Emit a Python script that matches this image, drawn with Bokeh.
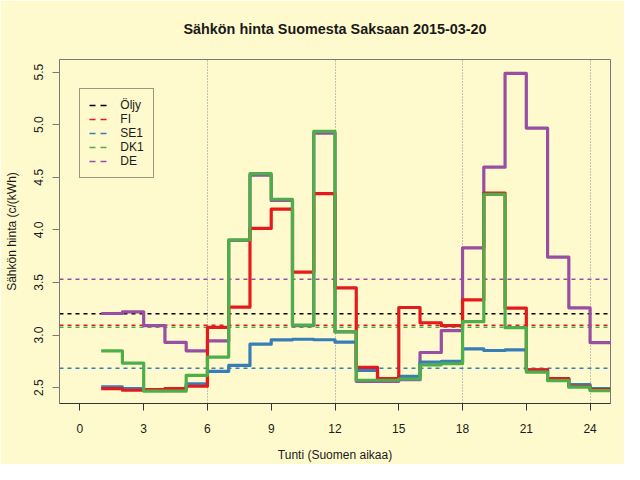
from bokeh.plotting import figure
from bokeh.models import Range1d, FixedTicker, PrintfTickFormatter, Legend, LegendItem, Title, Span
from bokeh.embed import file_html
from bokeh.resources import INLINE

# ---- data ----
hours = list(range(1, 25))
fi = [2.490, 2.475, 2.480, 2.490, 2.513, 3.073, 3.265, 4.014, 4.197, 3.599, 4.345, 3.448,
      2.693, 2.585, 3.262, 3.117, 3.089, 3.335, 4.350, 3.256, 2.670, 2.585, 2.513, 2.480]
se1 = [2.507, 2.490, 2.480, 2.490, 2.535, 2.655, 2.711, 2.913, 2.954, 2.960, 2.955, 2.932,
       2.664, 2.585, 2.607, 2.743, 2.749, 2.868, 2.853, 2.859, 2.670, 2.585, 2.528, 2.490]
dk1 = [2.850, 2.733, 2.466, 2.466, 2.617, 2.790, 3.904, 4.534, 4.291, 3.095, 4.936, 3.032,
       2.570, 2.570, 2.582, 2.717, 2.727, 3.127, 4.338, 3.070, 2.648, 2.566, 2.504, 2.472]
de = [3.205, 3.221, 3.089, 2.931, 2.850, 2.944, 3.900, 4.520, 4.280, 3.090, 4.920, 3.030,
      2.560, 2.560, 2.575, 2.834, 3.042, 3.829, 4.596, 5.488, 4.968, 3.741, 3.259, 2.928]

mean_names = ["Öljy", "FI", "SE1", "DK1", "DE"]
mean_values = [3.203, 3.092, 2.684, 3.073, 3.531]
mean_colors = ["#000000", "#E41A1C", "#377EB8", "#4DAF4A", "#984EA3"]

x_ticks = [0, 3, 6, 9, 12, 15, 18, 21, 24]
y_ticks = [2.5, 3.0, 3.5, 4.0, 4.5, 5.0, 5.5]
grid_hours = [6, 12, 18, 24]

title_text = "Sähkön hinta Suomesta Saksaan 2015-03-20"
x_title = "Tunti (Suomen aikaa)"
y_title = "Sähkön hinta (c/(kWh)"

BG = "#FFFACD"
FONT = "Liberation Sans"
TXT = "#1a1a1a"

W, H = 624, 464
BL, BR, BT, BB = 59, 14, 59, 58

p = figure(width=W, height=H,
           x_range=Range1d(-0.96, 24.96), y_range=Range1d(2.349, 5.620),
           output_backend="svg", toolbar_location=None,
           background_fill_color=BG, border_fill_color=BG,
           min_border_left=BL, min_border_right=BR,
           min_border_top=BT, min_border_bottom=BB,
           outline_line_color="#7a7a7a", outline_line_width=1)

# title (a tiny blank title below it pushes it up, away from the frame)
p.title.text = title_text
p.title.text_font = FONT
p.title.text_font_size = "14.4px"
p.title.text_font_style = "bold"
p.title.text_color = TXT
p.title.align = "center"
p.add_layout(Title(text=" ", text_font_size="5px"), "above")

# axes
p.xaxis.ticker = FixedTicker(ticks=x_ticks)
p.yaxis.ticker = FixedTicker(ticks=y_ticks)
p.yaxis.formatter = PrintfTickFormatter(format="%.1f")
p.yaxis.major_label_orientation = "vertical"
for ax in (p.xaxis, p.yaxis):
    ax.major_label_text_font = FONT
    ax.major_label_text_font_size = "12px"
    ax.major_label_text_color = TXT
    ax.axis_label_text_font = FONT
    ax.axis_label_text_font_size = "12px"
    ax.axis_label_text_font_style = "normal"
    ax.axis_label_text_color = TXT
    ax.major_tick_in = 0
    ax.major_tick_out = 7
    ax.minor_tick_line_color = None
p.xaxis.axis_label = x_title
p.yaxis.axis_label = y_title
p.xaxis.axis_line_color = "#333340"
p.xaxis.major_tick_line_color = "#333340"
p.yaxis.axis_line_color = "#7a7a7a"
p.yaxis.major_tick_line_color = "#7a7a7a"
p.xaxis.major_label_standoff = 13
p.xaxis.axis_label_standoff = 12
p.yaxis.major_label_standoff = 9
p.yaxis.axis_label_standoff = 13

# grid: dotted verticals only
p.xgrid.ticker = FixedTicker(ticks=grid_hours)
p.xgrid.grid_line_color = "#8c8c8c"
p.xgrid.grid_line_dash = "1 2"
p.xgrid.grid_line_width = 1
p.ygrid.visible = False

# mean lines
for mv, col in zip(mean_values, mean_colors):
    p.add_layout(Span(location=mv, dimension="width", line_color=col,
                      line_dash="4 4", line_width=1.5, level="underlay"))

# step series (value of hour h is drawn over [h, h+1])
step_x = hours + [hours[-1] + 1]
series = [(de, "#984EA3"), (se1, "#377EB8"), (fi, "#E41A1C"), (dk1, "#4DAF4A")]
for vals, col in series:
    p.step(x=step_x, y=vals + [vals[-1]], mode="after", line_color=col,
           line_width=3.2, line_join="round")

# legend (dashed entries like the reference); one-point lines draw nothing in the plot
items = []
for name, mv, col in zip(mean_names, mean_values, mean_colors):
    r = p.line(x=[hours[0]], y=[mv], line_color=col, line_dash="6 5", line_width=1.5)
    items.append(LegendItem(label=name, renderers=[r]))
legend = Legend(items=items, location=(20.3, 225),
                border_line_color="#333333", border_line_width=1,
                background_fill_color=BG, background_fill_alpha=1.0,
                padding=9, spacing=0, margin=0,
                glyph_width=18, glyph_height=14, label_height=14,
                label_standoff=13,
                label_text_font=FONT, label_text_font_size="12px",
                label_text_color=TXT)
p.add_layout(legend)

open("out.html", "w").write(file_html(p, INLINE))
